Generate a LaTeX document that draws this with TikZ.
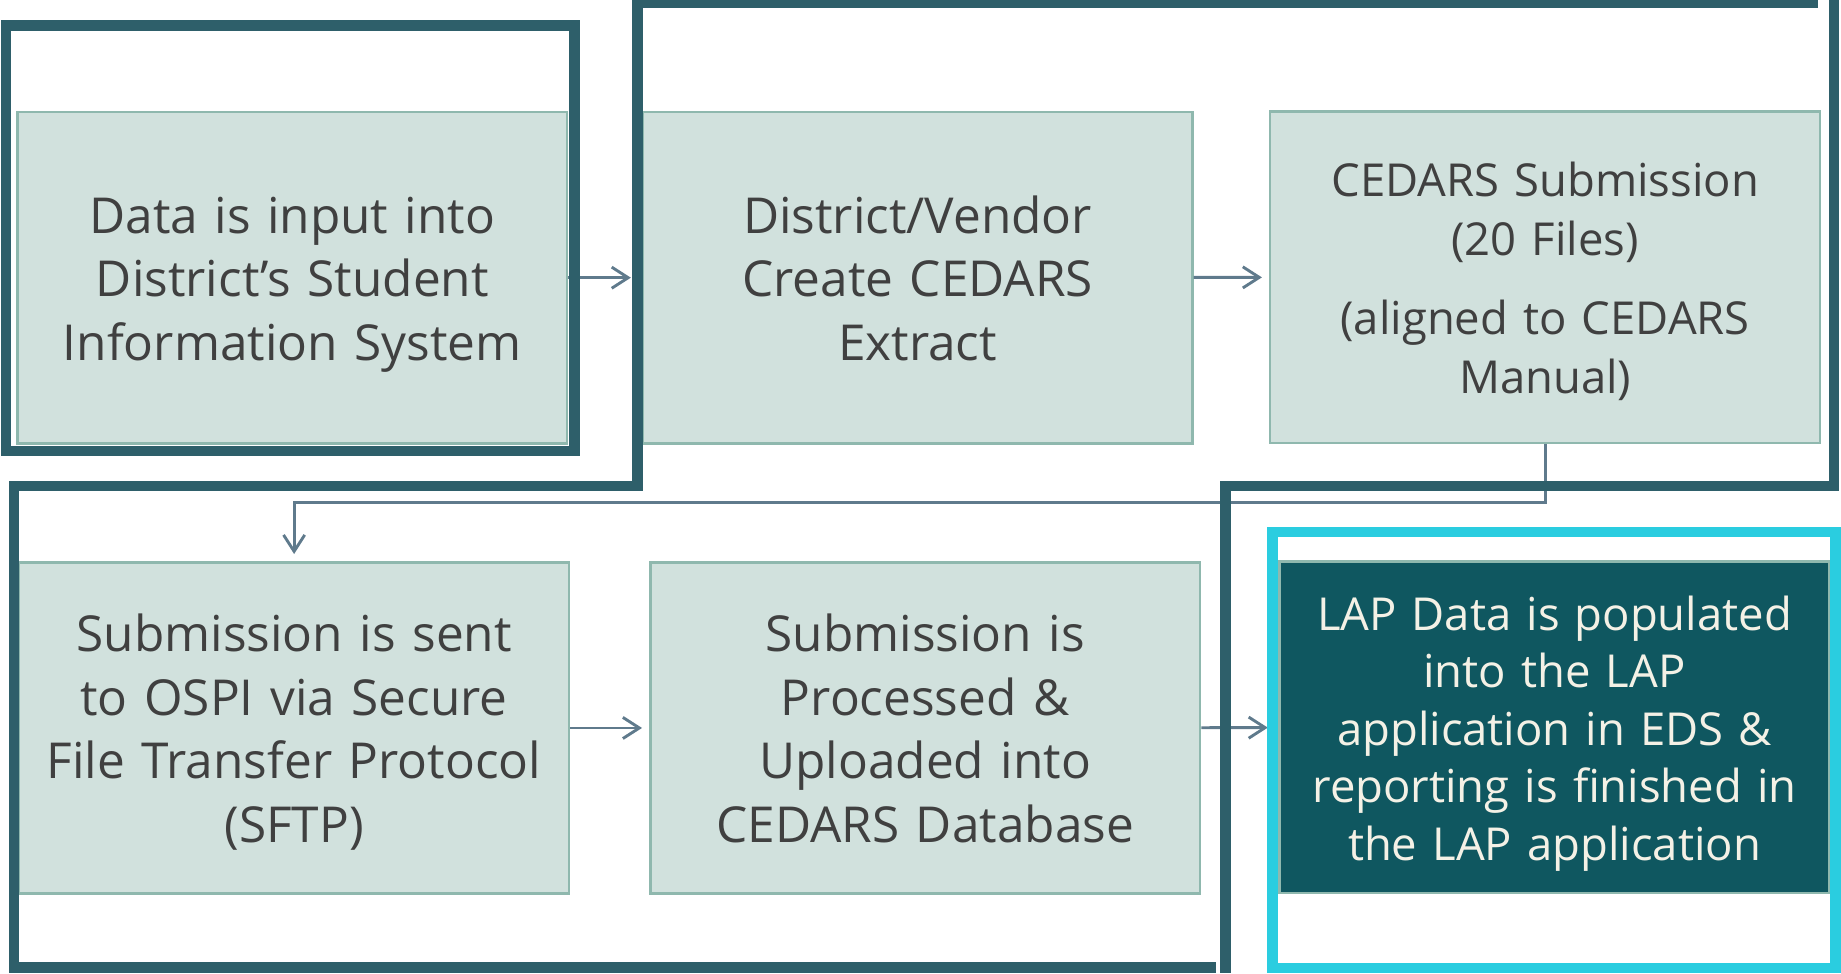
\documentclass[tikz,border=0pt]{standalone}
\usepackage{fontspec}
\setmainfont{Open Sans}
\usepackage{xcolor}
\usetikzlibrary{arrows.meta}

\definecolor{boxfill}{HTML}{D1E1DD}
\definecolor{boxline}{HTML}{8FB8AE}
\definecolor{frameline}{HTML}{2E5F6A}
\definecolor{darkbox}{HTML}{0F5760}
\definecolor{cyanline}{HTML}{2ACDE0}
\definecolor{arrowline}{HTML}{5F7A8C}
\definecolor{textgray}{HTML}{404040}
\definecolor{textcream}{HTML}{F4F1E6}

\newcommand{\topstrut}{\rule{0pt}{\dimexpr 0.7\baselineskip + 3.1pt\relax}}

\begin{document}
\begin{tikzpicture}[x = 0.01cm, y = -0.01cm,
	stepbox/.style = {draw = boxline, fill = boxfill, line width = 0.6pt, minimum width = 4.68cm, minimum height = 2.82cm, text width = 4.5cm, align = center, text = textgray, font = \fontsize{12}{15.4}\selectfont, inner sep = 0pt, execute at begin node = \topstrut, execute at end node = \strut},
	smallbox/.style = {stepbox, font = \fontsize{11}{14.2}\selectfont},
	lastbox/.style = {stepbox, fill = darkbox, text = textcream, font = \fontsize{11}{13.9}\selectfont},
	flow/.style = {draw = arrowline, line width = 0.7pt, -{Straight Barb[length = 1.4mm, width = 1.8mm]}},
	frame/.style = {draw = frameline, line width = 2.6pt}]
	\useasboundingbox (0,0) rectangle (1568,829);

	\node [stepbox] (input) at (249,236.5) {Data is input into\\District’s Student\\Information System};
	\node [stepbox] (extract) at (781.5,236.5) {District/Vendor\\Create CEDARS\\Extract};
	\node [smallbox] (submit) at (1316,236) {CEDARS Submission\\(20 Files)\\[5pt](aligned to CEDARS\\Manual)};
	\node [stepbox] (sftp) at (250.5,620) {Submission is sent\\to OSPI via Secure\\File Transfer Protocol\\(SFTP)};
	\node [stepbox] (upload) at (788,620) {Submission is\\Processed \&\\Uploaded into\\CEDARS Database};
	\node [lastbox] (lap) at (1324,619.5) {LAP Data is populated\\into the LAP\\application in EDS \&\\reporting is finished in\\the LAP application};

	\coordinate (turn) at (1316,428);

	\draw [flow, shorten >= 0.09cm] (input) -- (extract);
	\draw [flow, shorten >= 0.06cm] (extract) -- (submit);
	\draw [flow, shorten >= 0.06cm] (submit.south) -- (turn) -| (sftp.north);
	\draw [flow, shorten >= 0.06cm] (sftp) -- (upload);
	\draw [flow, shorten >= 0.09cm] (upload) -- (lap);

	% frames round the steps
	\draw [frame] (5,22) rectangle (489,384);
	\draw [frame] (1548,2.5) -- (543,2.5) -- (543,414) -- (12,414) -- (12,824) -- (1036,824);
	\draw [frame] (1562,0) -- (1562,414) -- (1044,414) -- (1044,829);
	\draw [draw = cyanline, line width = 2.6pt] (1084,453) rectangle (1563.5,824.5);
\end{tikzpicture}
\end{document}
